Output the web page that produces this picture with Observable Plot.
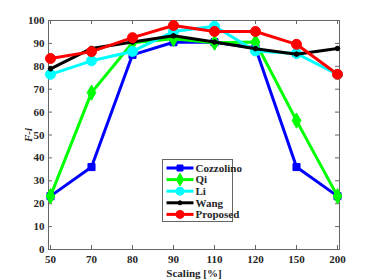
<!DOCTYPE html>
<html>
<head>
<meta charset="utf-8">
<script src="https://cdn.jsdelivr.net/npm/d3@7"></script>
<script src="https://cdn.jsdelivr.net/npm/@observablehq/plot@0.6"></script>
<style>
  html, body { margin: 0; padding: 0; background: #fff; }
  #chart { width: 374px; height: 280px; }
</style>
</head>
<body>
<div id="chart"></div>
<script>
const categories = ["50", "70", "80", "90", "110", "120", "150", "200"];
const yTicks = [0, 10, 20, 30, 40, 50, 60, 70, 80, 90, 100];
const seriesNames = ["Cozzolino", "Qi", "Li", "Wang", "Proposed"];
const cozzolino = [23.3, 36, 85, 90.5, 90.5, 88, 36, 23.3];
const qi        = [23.3, 68.5, 90.3, 92, 90.3, 90.6, 56.3, 23.3];
const li        = [76.5, 82.4, 86.5, 95.2, 97.5, 86.7, 85.6, 76.5];
const wang      = [78.9, 87.8, 90.6, 93.3, 90.6, 87.7, 85.3, 87.8];
const proposed  = [83.4, 86.4, 92.5, 97.8, 95.2, 95.2, 89.6, 76.5];

const seriesValues = [cozzolino, qi, li, wang, proposed];
const colors = ["#0000ff", "#00ff00", "#00ffff", "#000000", "#ff0000"];
const symbols = ["square", "diamond", "circle", "circle", "circle"];
const radii = [4, 4.6, 5, 2.3, 5];
const legendRadii = [3.4, 3.8, 4, 2, 4];

const W = 374, H = 280;
const mL = 48, mR = 35, mT = 20, mB = 31;
const pw = W - mL - mR, ph = H - mT - mB;

const data = [];
seriesNames.forEach((s, i) => {
  categories.forEach((c, j) => data.push({series: s, idx: i, x: c, y: seriesValues[i][j]}));
});

const marks = [
  Plot.tickY(yTicks, {y: d => d, insetRight: pw - 4, stroke: "#666", strokeWidth: 1}),
  Plot.tickY(yTicks, {y: d => d, insetLeft: pw - 4, stroke: "#666", strokeWidth: 1}),
  Plot.tickX(categories, {x: d => d, insetTop: ph - 4, stroke: "#666", strokeWidth: 1}),
  Plot.tickX(categories, {x: d => d, insetBottom: ph - 4, stroke: "#666", strokeWidth: 1}),
  Plot.frame({stroke: "#666", strokeWidth: 1}),
  Plot.axisY(yTicks, {anchor: "left", tickSize: 0, tickPadding: 4, fill: "#262626", fontWeight: "bold",
    label: "F-i", labelAnchor: "center", labelArrow: "none", labelOffset: 24}),
  Plot.axisX(categories, {anchor: "bottom", tickSize: 0, tickPadding: 6, fill: "#262626", fontWeight: "bold",
    label: "Scaling [%]", labelAnchor: "center", labelArrow: "none", labelOffset: 27})
];
seriesNames.forEach((s, i) => {
  const d = data.filter(r => r.idx === i);
  marks.push(Plot.line(d, {x: "x", y: "y", stroke: colors[i], strokeWidth: 3}));
  marks.push(Plot.dot(d, {x: "x", y: "y", symbol: symbols[i], r: radii[i], fill: colors[i], stroke: colors[i], strokeWidth: 1}));
});

const chart = Plot.plot({
  width: W, height: H,
  marginLeft: mL, marginRight: mR, marginTop: mT, marginBottom: mB,
  style: {fontFamily: "'Liberation Serif', 'Times New Roman', serif", fontSize: "11px", fontWeight: "bold", color: "#262626", background: "#fff"},
  x: {type: "point", domain: categories, padding: 0},
  y: {domain: [0, 100]},
  marks
});

const svg = d3.select(chart);
svg.selectAll("text").filter(function() { return this.textContent === "F-i"; })
  .attr("font-style", "italic").style("font-style", "italic");

// legend overlay
const lg = svg.append("g").attr("transform", "translate(162.5,159.5)").attr("text-anchor", "start");
lg.append("rect").attr("width", 70).attr("height", 62).attr("fill", "#fff").attr("stroke", "#666").attr("stroke-width", 1);
seriesNames.forEach((s, i) => {
  const yy = 8.5 + i * 11.6;
  lg.append("line").attr("x1", 4).attr("x2", 31).attr("y1", yy).attr("y2", yy).attr("stroke", colors[i]).attr("stroke-width", 3);
  const sym = {square: d3.symbolSquare, diamond: d3.symbolDiamond, circle: d3.symbolCircle}[symbols[i]];
  lg.append("path").attr("transform", `translate(17.5,${yy})`)
    .attr("d", d3.symbol(sym, Math.PI * legendRadii[i] * legendRadii[i])())
    .attr("fill", colors[i]).attr("stroke", colors[i]);
  lg.append("text").attr("x", 33).attr("y", yy).attr("dy", "0.35em").attr("fill", "#262626")
    .attr("text-anchor", "start")
    .style("font-weight", "bold").style("font-size", "11px").text(s);
});

document.getElementById("chart").appendChild(chart);
</script>
</body>
</html>
